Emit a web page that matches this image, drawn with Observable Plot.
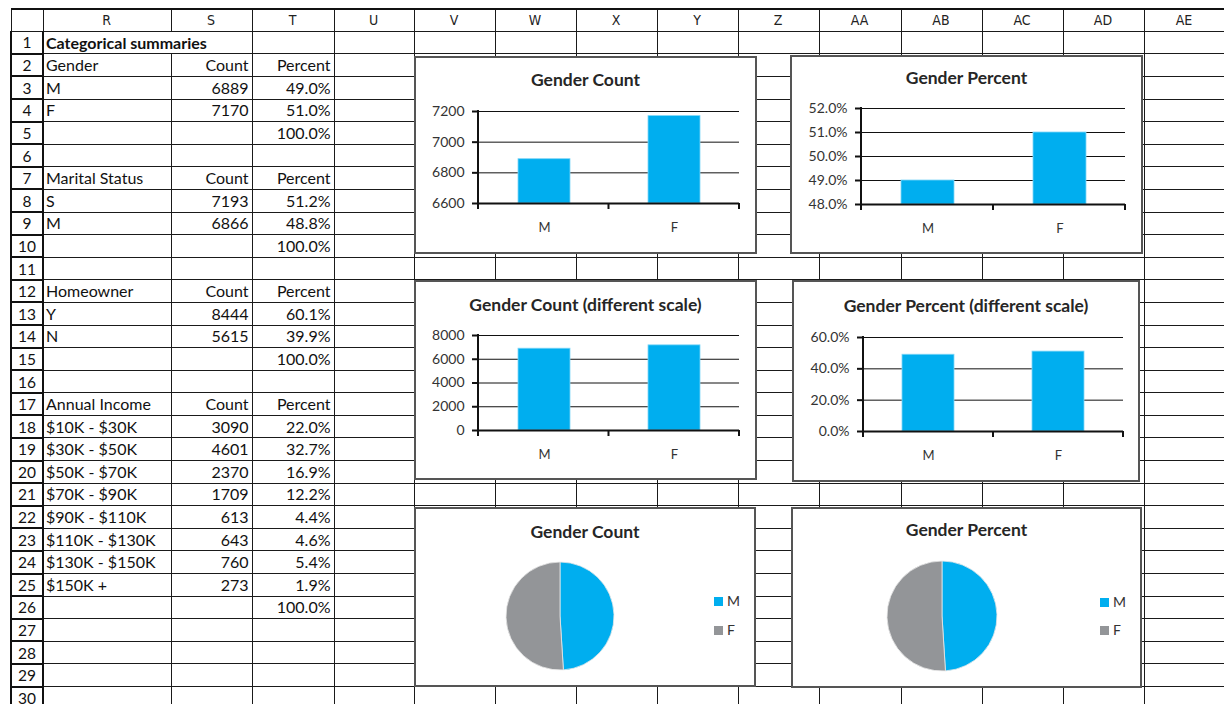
<!DOCTYPE html>
<html><head><meta charset="utf-8">
<script src="https://cdn.jsdelivr.net/npm/d3@7"></script>
<script src="https://cdn.jsdelivr.net/npm/@observablehq/plot@0.6"></script>
<style>
html,body{margin:0;padding:0;background:#fff;width:1224px;height:704px;overflow:hidden;position:relative;}
#sheet{position:absolute;left:10px;top:8px;width:1214px;border-collapse:collapse;table-layout:fixed;font-family:Lato,"Open Sans",sans-serif;font-size:16px;color:#111;}
#sheet td{border:1px solid #1a1a1a;padding:0 3px 0 2px;height:22px;line-height:20px;white-space:nowrap;overflow:visible;box-sizing:border-box;}
#sheet tr{height:22.6px;}
#sheet tr.hdr{height:22.3px;}
#sheet tr.hdr td{text-align:center;font-family:"Liberation Sans Narrow","DejaVu Sans Condensed","Arial Narrow",sans-serif;font-stretch:condensed;font-size:14px;color:#222;border-top:2px solid #111;}
#sheet td.rn{text-align:center;border-left:2px solid #111;border-right:2px solid #111;border-bottom:2px solid #111;padding:0;font-size:15.5px;}
#sheet td.num{text-align:right;}
#sheet td.b{font-weight:bold;}
.chart{position:absolute;box-sizing:border-box;border:2px solid #555;background:#fff;}
.chart .title{position:absolute;left:0;right:0;text-align:center;font:bold 17.5px Lato,sans-serif;line-height:20px;color:#262626;}
.chart svg{position:absolute;left:0;top:0;}
.legend{position:absolute;font:14px Lato,sans-serif;color:#333;line-height:16px;}
.legend span.sw{display:inline-block;width:9px;height:9px;margin-right:4px;vertical-align:middle;position:relative;top:-1px;}
</style>
</head><body>
<script>
// ---------- data ----------
const columnLetters = ["R","S","T","U","V","W","X","Y","Z","AA","AB","AC","AD","AE"];
const sheetTitle = "Categorical summaries";
const countHeader = "Count";
const percentHeader = "Percent";

const genderCats = ["M","F"];
const genderCount = [6889, 7170];
const genderPct = [0.490, 0.510];

const maritalCats = ["S","M"];
const maritalCount = [7193, 6866];
const maritalPct = [0.512, 0.488];

const homeCats = ["Y","N"];
const homeCount = [8444, 5615];
const homePct = [0.601, 0.399];

const incomeCats = ["$10K - $30K","$30K - $50K","$50K - $70K","$70K - $90K","$90K - $110K","$110K - $130K","$130K - $150K","$150K +"];
const incomeCount = [3090, 4601, 2370, 1709, 613, 643, 760, 273];
const incomePct = [0.220, 0.327, 0.169, 0.122, 0.044, 0.046, 0.054, 0.019];

const sectionTotals = [1.0, 1.0, 1.0, 1.0];

const countTicksNarrow = [6600, 6800, 7000, 7200];
const pctTicksNarrow = [0.48, 0.49, 0.50, 0.51, 0.52];
const countTicksWide = [0, 2000, 4000, 6000, 8000];
const pctTicksWide = [0, 0.2, 0.4, 0.6];

const chartTitles = ["Gender Count","Gender Percent","Gender Count (different scale)","Gender Percent (different scale)","Gender Count","Gender Percent"];

// ---------- styling ----------
const BLUE = "#00AEEF";
const GRAY = "#939598";
const pieColors = [BLUE, GRAY];
const fmtPct = d3.format(".1%");
const colWidths = [32,128,81,82,80,81,81,81,81,81,82,81,81,81,81];
const NROWS = 30;

// ---------- spreadsheet ----------
const sections = [
  {name:"Gender", cats:genderCats, counts:genderCount, pcts:genderPct, start:2},
  {name:"Marital Status", cats:maritalCats, counts:maritalCount, pcts:maritalPct, start:7},
  {name:"Homeowner", cats:homeCats, counts:homeCount, pcts:homePct, start:12},
  {name:"Annual Income", cats:incomeCats, counts:incomeCount, pcts:incomePct, start:17}
];
const cells = {}; // row -> [R,S,T]
sections.forEach((s, si) => {
  cells[s.start] = [s.name, countHeader, percentHeader];
  s.cats.forEach((c, i) => { cells[s.start + 1 + i] = [c, String(s.counts[i]), fmtPct(s.pcts[i])]; });
  cells[s.start + 1 + s.cats.length] = ["", "", fmtPct(sectionTotals[si])];
});

const table = d3.select("body").append("table").attr("id","sheet");
const cg = table.append("colgroup");
colWidths.forEach(w => cg.append("col").style("width", w + "px"));
const hdr = table.append("tr").attr("class","hdr");
hdr.append("td");
columnLetters.forEach(l => hdr.append("td").text(l));
for (let r = 1; r <= NROWS; r++) {
  const tr = table.append("tr");
  tr.append("td").attr("class","rn").text(r);
  if (r === 1) {
    tr.append("td").attr("colspan",2).attr("class","b").text(sheetTitle);
    for (let k = 2; k < columnLetters.length; k++) tr.append("td");
    continue;
  }
  const row = cells[r] || ["","",""];
  tr.append("td").text(row[0]);
  tr.append("td").attr("class","num").text(row[1]);
  tr.append("td").attr("class","num").text(row[2]);
  for (let k = 3; k < columnLetters.length; k++) tr.append("td");
}

// ---------- charts ----------
function frameMark(n) {
  return (index, scales, values, dims) => {
    const {width, height, marginLeft, marginRight, marginTop, marginBottom} = dims;
    const x0 = marginLeft, x1 = width - marginRight, y0 = marginTop, y1 = height - marginBottom;
    const step = (x1 - x0) / n;
    const g = d3.create("svg:g").attr("stroke", "#111").attr("stroke-width", 2);
    g.append("line").attr("x1", x0).attr("x2", x0).attr("y1", y0 - 1).attr("y2", y1 + 6);
    for (let k = 1; k <= n; k++) {
      g.append("line").attr("x1", x0 + k * step).attr("x2", x0 + k * step).attr("y1", y1).attr("y2", y1 + 6);
    }
    return g.node();
  };
}

function barChart(box, title, cats, vals, ticks, fmt, m) {
  const div = d3.select("body").append("div").attr("class","chart")
    .style("left", box.left + "px").style("top", box.top + "px")
    .style("width", box.w + "px").style("height", box.h + "px");
  div.append("div").attr("class","title").style("top", (box.titleY - box.top - 12) + "px").text(title);
  const data = cats.map((c, i) => ({cat: c, value: vals[i]}));
  const lo = ticks[0], hi = ticks[ticks.length - 1];
  const svg = Plot.plot({
    width: box.w - 4, height: box.h - 4,
    marginLeft: m.l, marginRight: m.r, marginTop: m.t, marginBottom: m.b,
    style: {fontFamily: "Lato, sans-serif", fontSize: "14px", color: "#333", background: "transparent", overflow: "visible"},
    x: {domain: cats, paddingInner: 0.6, paddingOuter: 0.3, label: null},
    y: {domain: [lo, hi], label: null},
    marks: [
      Plot.gridY(ticks, {stroke: "#111", strokeOpacity: 1, strokeWidth: 1}),
      Plot.barY(data, {x: "cat", y1: lo, y2: "value", fill: BLUE, stroke: "#7fd6f7", strokeWidth: 0.8}),
      Plot.ruleY([lo], {stroke: "#111", strokeWidth: 2}),
      Plot.axisY(ticks, {tickSize: 6, tickPadding: 8, tickFormat: fmt, stroke: "#111", strokeWidth: 2, fontSize: 14, fill: "#333", label: null}),
      Plot.axisX({tickSize: 0, tickPadding: 19, fontSize: 13, fill: "#333", label: null}),
      frameMark(cats.length)
    ]
  });
  div.node().appendChild(svg);
}

function pieMark(data, colors) {
  return (index, scales, values, dims) => {
    const {width, height, marginLeft, marginRight, marginTop, marginBottom} = dims;
    const cx = (marginLeft + width - marginRight) / 2, cy = (marginTop + height - marginBottom) / 2;
    const r = Math.min(width - marginLeft - marginRight, height - marginTop - marginBottom) / 2;
    const arcs = d3.pie().sort(null).value(d => d.value)(data);
    const arc = d3.arc().innerRadius(0).outerRadius(r);
    const g = d3.create("svg:g").attr("transform", `translate(${cx},${cy})`);
    g.selectAll("path").data(arcs).join("path").attr("d", arc)
      .attr("fill", (d, i) => colors[i]).attr("stroke", "#e8e8e8").attr("stroke-width", 0.8);
    return g.node();
  };
}

function pieChart(box, title, cats, vals, m, leg) {
  const div = d3.select("body").append("div").attr("class","chart")
    .style("left", box.left + "px").style("top", box.top + "px")
    .style("width", box.w + "px").style("height", box.h + "px");
  div.append("div").attr("class","title").style("top", (box.titleY - box.top - 12) + "px").text(title);
  const data = cats.map((c, i) => ({cat: c, value: vals[i]}));
  const svg = Plot.plot({
    width: box.w - 4, height: box.h - 4,
    marginLeft: m.l, marginRight: m.r, marginTop: m.t, marginBottom: m.b,
    style: {background: "transparent", overflow: "visible"},
    marks: [pieMark(data, pieColors)]
  });
  div.node().appendChild(svg);
  cats.forEach((c, i) => {
    const l = d3.select("body").append("div").attr("class","legend")
      .style("left", leg.x + "px").style("top", (leg.ys[i] - 8) + "px");
    l.append("span").attr("class","sw").style("background", pieColors[i]);
    l.append("span").text(c);
  });
}

barChart({left:414, top:56, w:343, h:198, titleY:80}, chartTitles[0], genderCats, genderCount, countTicksNarrow, d => String(d), {l:62, r:16, t:53, b:49});
barChart({left:790, top:55, w:353, h:199, titleY:78}, chartTitles[1], genderCats, genderPct, pctTicksNarrow, fmtPct, {l:69, r:16, t:51, b:48});
barChart({left:414, top:280, w:343, h:200, titleY:305}, chartTitles[2], genderCats, genderCount, countTicksWide, d => String(d), {l:62, r:16, t:53, b:48});
barChart({left:792, top:280, w:348, h:202, titleY:306}, chartTitles[3], genderCats, genderPct, pctTicksWide, fmtPct, {l:69, r:15, t:55, b:49});
pieChart({left:414, top:507, w:342, h:180, titleY:532}, chartTitles[4], genderCats, genderCount, {l:90, r:140, t:53, b:15}, {x:714, ys:[601, 630]});
pieChart({left:791, top:507, w:351, h:181, titleY:530}, chartTitles[5], genderCats, genderPct, {l:94, r:143, t:52, b:15}, {x:1100, ys:[602, 630]});
</script>
</body></html>
